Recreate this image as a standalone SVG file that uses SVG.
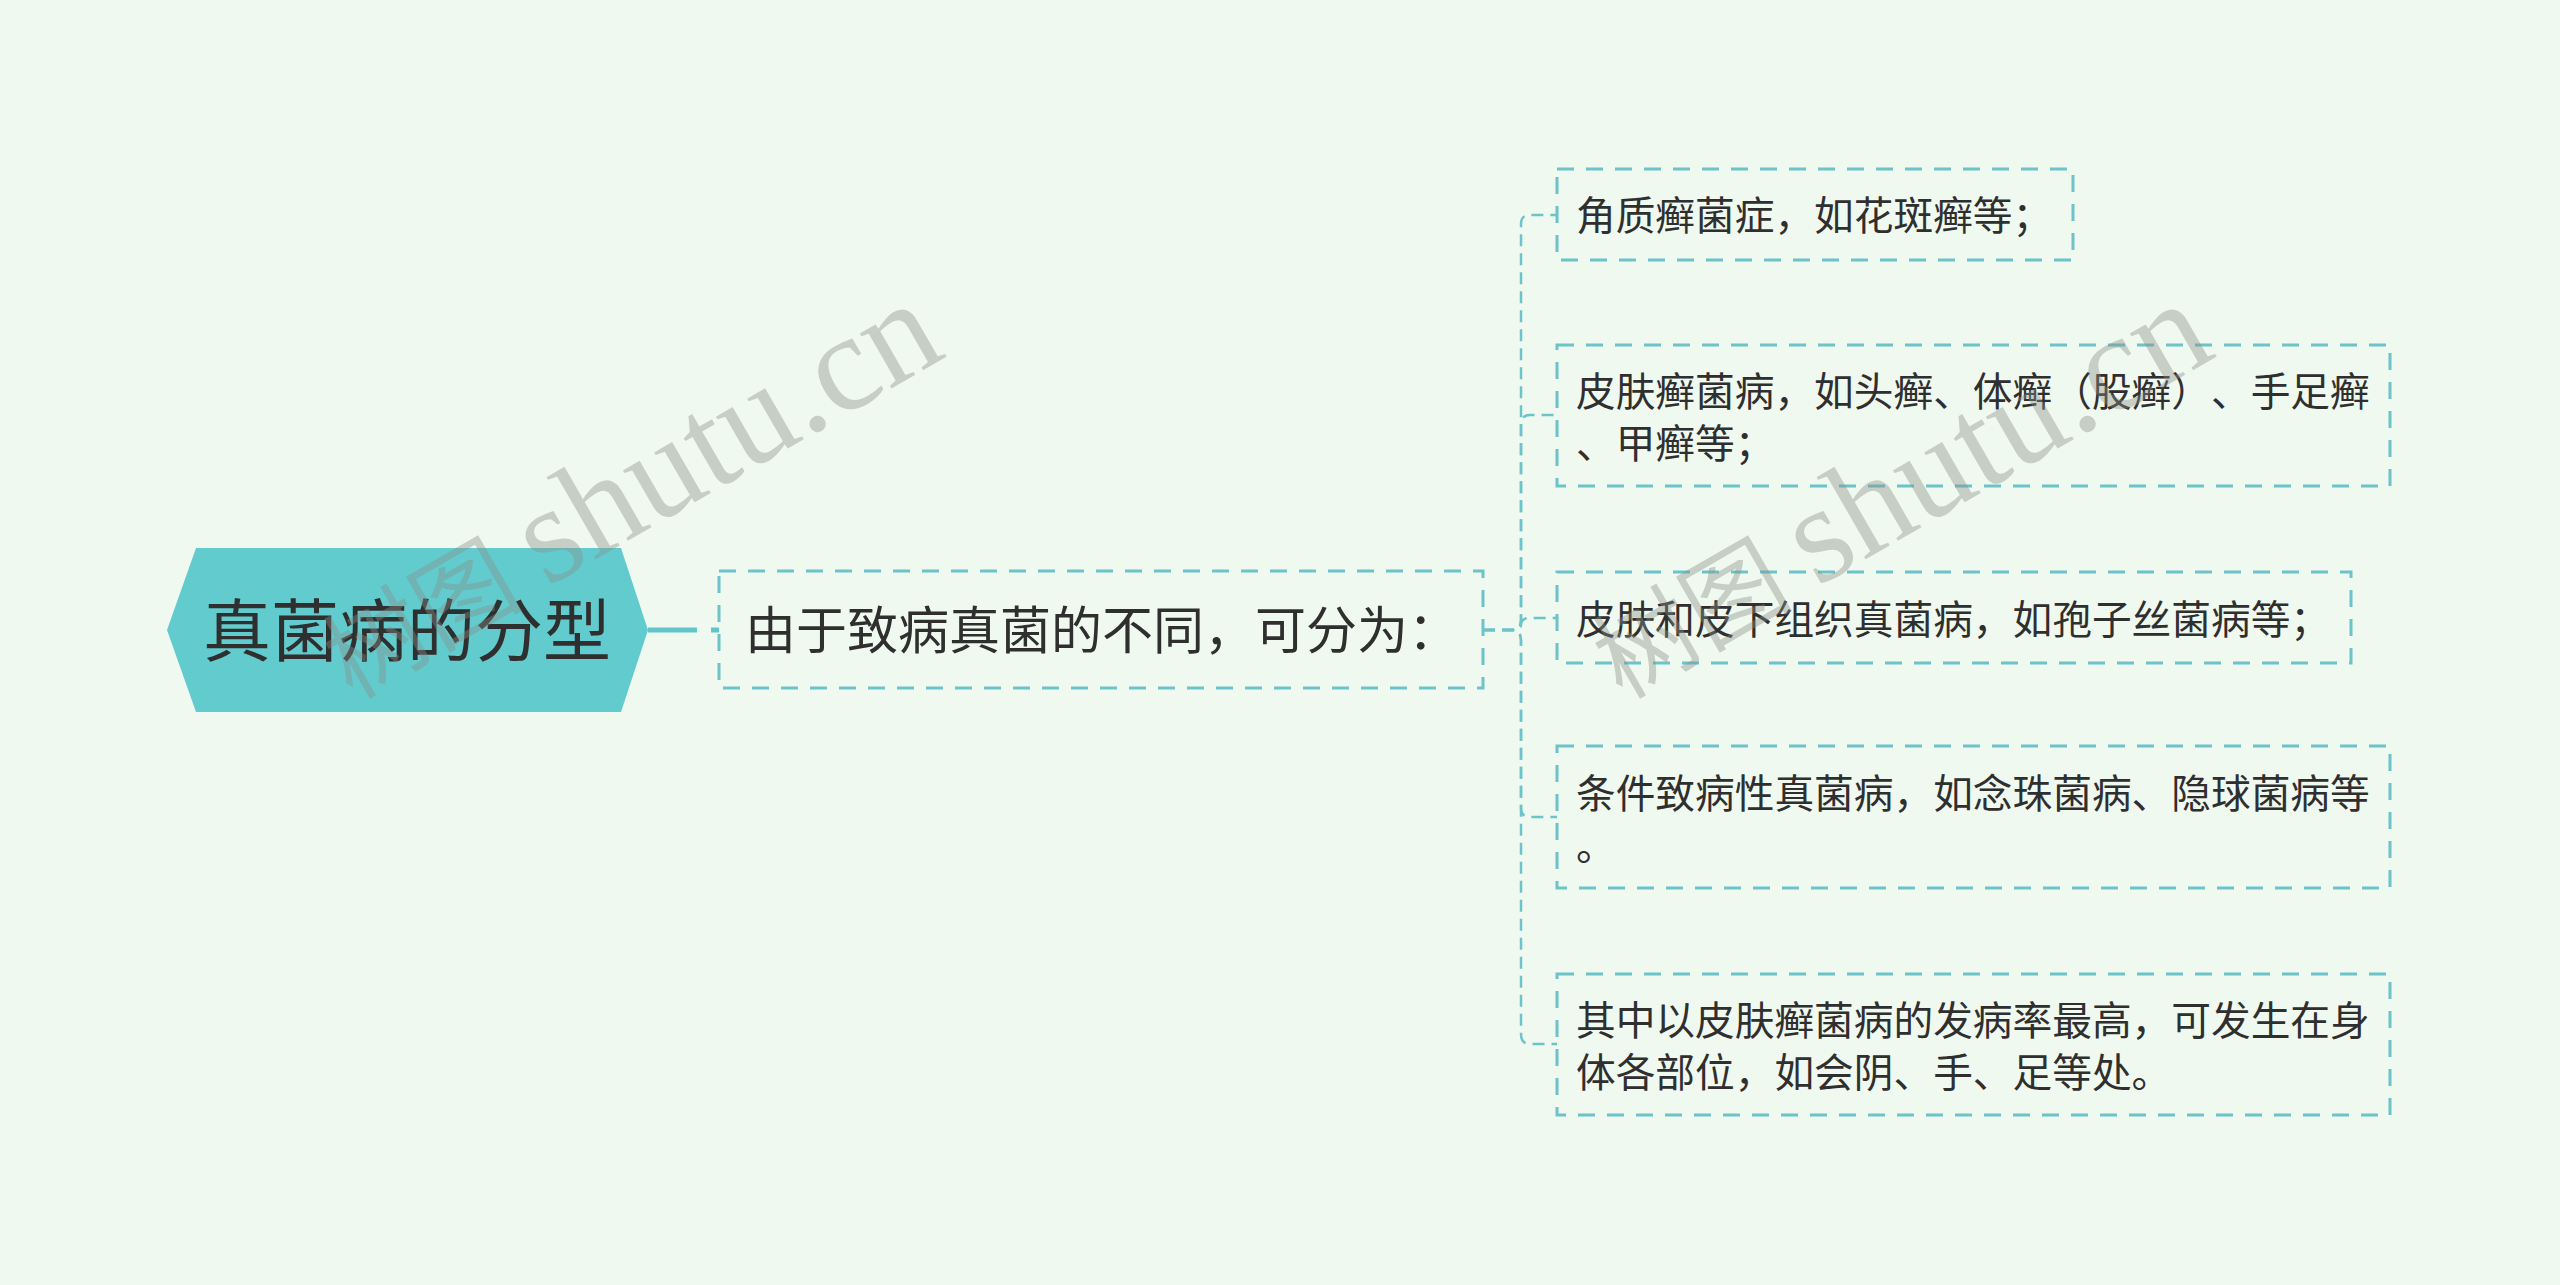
<svg xmlns="http://www.w3.org/2000/svg" width="2560" height="1285" viewBox="0 0 2560 1285">
<defs>
<style>
.bg{fill:#F0F9EF}
.hex{fill:#62CBCD}
.box{fill:none;stroke:#6CC3CA;stroke-width:3;stroke-dasharray:17 12}
.link{fill:none;stroke:#6CC3CA;stroke-width:2.5;stroke-dasharray:12 7}
.rootlink{fill:none;stroke:#62C5CA;stroke-width:5}
.t{font-family:"Noto Sans CJK SC","Noto Sans",sans-serif;fill:#2F2F2F;text-spacing-trim:space-all}
.root{font-size:68px;text-anchor:middle}
.mid{font-size:51px}
.leaf{font-size:39.7px}
.wm{font-family:"Liberation Serif","Noto Sans CJK SC",serif;fill:#8A8F8A;fill-opacity:0.4}
.wmc{font-size:100px}
.wml{font-size:138px}
</style>
</defs>
<rect class="bg" x="0" y="0" width="2560" height="1285"/>

<g id="connectors">
<path class="rootlink" d="M648,630 H697 M711,630 H719"/>
<path class="link" d="M1483,630 H1511 Q1521,630 1521,620 V224 Q1521,215 1530,215 H1557"/>
<path class="link" d="M1483,630 H1511 Q1521,630 1521,620 V425 Q1521,415 1530,415 H1557"/>
<path class="link" d="M1483,630 H1511 Q1521,630 1521,625 Q1521,618 1530,618 H1557"/>
<path class="link" d="M1483,630 H1511 Q1521,630 1521,640 V808 Q1521,817 1530,817 H1557"/>
<path class="link" d="M1483,630 H1511 Q1521,630 1521,640 V1034 Q1521,1044 1530,1044 H1557"/>
</g>

<g id="root">
<polygon class="hex" points="167,630 196,548 621,548 648,630 621,712 196,712"/>
<text class="t root" x="407" y="656">真菌病的分型</text>
</g>

<g id="node-main">
<rect class="box" x="719" y="571" width="764" height="117"/>
<text class="t mid" x="745" y="649">由于致病真菌的不同，可分为：</text>
</g>

<g id="leaf-1">
<rect class="box" x="1557" y="169" width="516" height="91"/>
<text class="t leaf" x="1576" y="230">角质癣菌症，如花斑癣等；</text>
</g>

<g id="leaf-2">
<rect class="box" x="1557" y="345" width="833" height="141"/>
<text class="t leaf" x="1576" y="406">皮肤癣菌病，如头癣、体癣（股癣）、手足癣</text>
<text class="t leaf" x="1576" y="458">、甲癣等；</text>
</g>

<g id="leaf-3">
<rect class="box" x="1557" y="572" width="794" height="91"/>
<text class="t leaf" x="1576" y="634">皮肤和皮下组织真菌病，如孢子丝菌病等；</text>
</g>

<g id="leaf-4">
<rect class="box" x="1557" y="746" width="833" height="142"/>
<text class="t leaf" x="1576" y="808">条件致病性真菌病，如念珠菌病、隐球菌病等</text>
<text class="t leaf" x="1576" y="860">。</text>
</g>

<g id="leaf-5">
<rect class="box" x="1557" y="974" width="833" height="141"/>
<text class="t leaf" x="1576" y="1035">其中以皮肤癣菌病的发病率最高，可发生在身</text>
<text class="t leaf" x="1576" y="1087">体各部位，如会阴、手、足等处。</text>
</g>

<g id="watermarks">
<text class="wm" transform="translate(352,700) rotate(-30)"><tspan class="wmc">树图 </tspan><tspan class="wml">shutu.cn</tspan></text>
<text class="wm" transform="translate(1622,700) rotate(-30)"><tspan class="wmc">树图 </tspan><tspan class="wml">shutu.cn</tspan></text>
</g>
</svg>
